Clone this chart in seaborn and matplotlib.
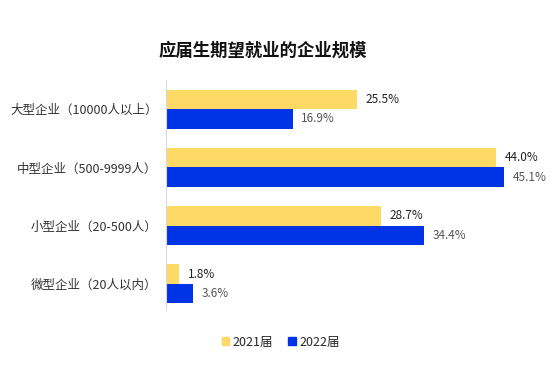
import pandas as pd
import matplotlib.pyplot as plt
import seaborn as sns

# 数据
categories = ['大型企业（10000人以上）', '中型企业（500-9999人）', '小型企业（20-500人）', '微型企业（20人以内）']
years = ['2021届', '2022届']
values_2021 = [25.5, 44.0, 28.7, 1.8]
values_2022 = [16.9, 45.1, 34.4, 3.6]
colors = ['#FFD966', '#0033E6']

df = pd.DataFrame({
    'category': categories * 2,
    'year': [years[0]] * 4 + [years[1]] * 4,
    'value': values_2021 + values_2022,
})

sns.set_style('white')
plt.rcParams['font.family'] = ['Noto Sans CJK SC', 'DejaVu Sans']

fig = plt.figure(figsize=(5.55, 3.87), dpi=100)
ax = fig.add_axes([0.299, 0.199, 0.676, 0.594])

sns.barplot(data=df, y='category', x='value', hue='year', orient='h',
            palette=colors, saturation=1, width=0.67, linewidth=0,
            ax=ax, legend=False)

# 数值标签
label_colors = ['#222222', '#555555']
for cont, c in zip(ax.containers, label_colors):
    ax.bar_label(cont, fmt='%.1f%%', padding=6, fontsize=8.5, color=c)

ax.set_xlim(0, 50)
ax.set_ylim(3.45, -0.5)
ax.set_xlabel('')
ax.set_ylabel('')
ax.set_xticks([])
ax.tick_params(axis='y', length=0, pad=6, labelsize=9, labelcolor='#333333')
for s in ['top', 'right', 'bottom']:
    ax.spines[s].set_visible(False)
ax.spines['left'].set_color('#D9D9D9')
ax.spines['left'].set_linewidth(0.8)

fig.text(0.473, 0.87, '应届生期望就业的企业规模', ha='center', va='center',
         fontsize=12.5, fontweight='bold', color='#111111')

handles = [plt.Rectangle((0, 0), 1, 1, color=c) for c in colors]
fig.legend(handles, years, loc='center', bbox_to_anchor=(0.506, 0.116), ncol=2,
           frameon=False, fontsize=9, handlelength=0.6, handleheight=0.6,
           handletextpad=0.3, columnspacing=1.2)

fig.savefig('out.png', dpi=100)
